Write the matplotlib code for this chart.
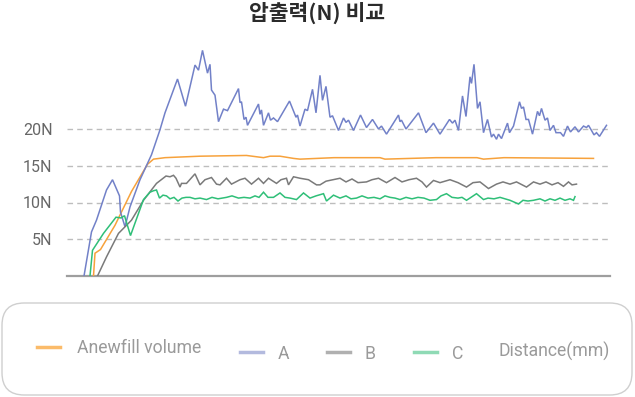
import matplotlib
matplotlib.use("Agg")
import matplotlib.pyplot as plt
from matplotlib.patches import FancyBboxPatch
from matplotlib.lines import Line2D

plt.rcParams['font.family'] = ['Noto Sans CJK KR', 'DejaVu Sans']

title = "압출력(N) 비교"
series_names = ["Anewfill volume", "A", "B", "C"]
x_label = "Distance(mm)"
y_ticks = [5, 10, 15, 20]
y_tick_labels = ["5N", "10N", "15N", "20N"]

anew_x = [5.3, 5.6, 6.7, 9.6, 12.9, 16.1, 17.3, 19.6, 26.6, 35.9, 39.3, 40.6, 42.6, 45.3, 46.6,
          53.4, 62.6, 63.6, 73.8, 82.0, 83.3, 87.4, 105.3]
anew_y = [0, 3.1, 3.6, 6.9, 11.5, 15.2, 15.9, 16.1, 16.3, 16.4, 16.1, 16.3, 16.3, 16.0, 15.9,
          16.1, 16.1, 15.9, 16.1, 16.1, 15.9, 16.1, 16.0]

a_x = [3.4, 4.9, 5.9, 7.9, 9.1, 10.5, 10.7, 11.6, 12.6, 14.6, 16.9, 18.6, 19.6, 22.1, 23.7,
       25.6, 26.3, 27.1, 28.1, 28.6, 28.9, 29.6, 30.3, 31.3, 32.1, 34.3, 34.6, 34.9, 35.4, 35.8,
       36.1, 38.3, 38.6, 38.9, 39.3, 40.3, 40.7, 41.3, 42.1, 44.5, 45.8, 46.1, 46.6, 47.6, 48.1,
       49.1, 49.8, 50.6, 51.1, 51.8, 52.6, 53.1, 54.3, 55.3, 55.8, 56.3, 57.3, 58.7, 59.9, 61.1,
       62.3, 62.9, 63.9, 66.3, 66.6, 66.9, 67.8, 70.3, 71.8, 73.3, 74.6, 76.5, 77.1, 77.6, 78.3,
       79.1, 79.8, 80.6, 80.9, 81.4, 82.1, 82.6, 83.3, 84.1, 84.9, 85.3, 85.9, 86.3, 86.9, 88.1,
       88.5, 89.3, 90.5, 90.9, 91.3, 91.8, 92.3, 93.1, 94.1, 94.5, 94.9, 95.6, 96.1, 96.6, 97.3,
       97.8, 98.7, 99.3, 100.1, 100.7, 101.6, 102.3, 103.3, 103.9, 104.3, 104.9, 105.4, 105.9,
       106.5, 107.9]
a_y = [0, 6.0, 7.6, 11.7, 13.1, 10.9, 8.7, 6.7, 9.4, 13.1, 16.5, 19.9, 22.2, 26.8, 23.1,
       28.7, 28.0, 30.7, 27.6, 28.8, 25.3, 24.6, 21.0, 22.7, 22.5, 25.5, 23.6, 23.7, 21.3, 21.6,
       20.5, 23.4, 22.0, 22.6, 20.5, 22.2, 21.2, 21.5, 21.0, 23.8, 21.6, 21.9, 20.4, 22.7, 22.5,
       25.4, 22.2, 27.3, 23.9, 25.8, 21.6, 21.8, 19.8, 21.5, 20.9, 21.2, 19.8, 21.9, 20.2, 21.3,
       20.0, 20.4, 19.3, 21.9, 21.0, 21.2, 20.0, 22.2, 19.5, 20.8, 19.3, 21.3, 20.8, 21.2, 19.8,
       24.5, 21.7, 27.1, 26.2, 28.8, 22.8, 23.7, 19.5, 21.3, 18.9, 19.3, 18.6, 19.3, 18.7, 20.8,
       19.5, 20.4, 23.7, 22.8, 23.0, 21.3, 21.3, 19.3, 22.4, 21.8, 22.8, 21.2, 21.5, 19.8, 20.5,
       19.5, 19.5, 19.0, 20.4, 19.6, 20.3, 19.6, 20.4, 20.2, 20.5, 19.8, 19.2, 19.5,
       19.0, 20.5]

b_x = [6.1, 7.9, 10.3, 11.9, 12.9, 15.3, 17.9, 19.8, 20.6, 21.3, 21.8, 22.6, 22.9, 23.9, 25.6,
       26.6, 27.6, 28.9, 29.9, 30.6, 31.9, 32.9, 34.6, 35.6, 36.9, 38.3, 39.3, 40.3, 41.9, 42.8,
       43.9, 44.3, 45.3, 46.6, 48.3, 49.9, 50.6, 51.8, 53.2, 54.6, 55.8, 57.0, 58.2, 59.9, 61.0,
       62.3, 63.9, 65.6, 67.0, 68.4, 69.9, 71.0, 71.9, 73.3, 74.6, 76.6, 78.2, 79.9, 81.2, 82.6,
       84.3, 85.9, 87.2, 88.6, 89.9, 91.9, 93.3, 94.6, 95.8, 97.0, 98.2, 99.3, 100.3, 101.0, 101.9]
b_y = [0, 2.6, 5.8, 6.9, 7.6, 10.3, 12.6, 13.6, 13.5, 13.7, 13.3, 12.1, 12.6, 12.6, 13.9,
       12.4, 13.1, 13.4, 12.5, 12.4, 13.3, 12.5, 13.1, 13.3, 12.5, 13.3, 12.6, 13.3, 12.6, 13.1,
       13.3, 12.4, 13.5, 13.3, 13.1, 12.4, 12.4, 12.9, 13.1, 13.3, 12.8, 13.2, 12.7, 12.8, 13.1,
       13.3, 12.7, 13.4, 12.8, 13.1, 13.3, 12.8, 12.1, 13.0, 12.7, 13.1, 12.7, 12.1, 12.7, 12.8,
       11.9, 12.5, 12.8, 12.5, 12.8, 12.1, 12.8, 12.5, 12.8, 12.4, 12.7, 12.2, 12.8, 12.4, 12.5]

c_x = [4.6, 5.1, 7.3, 9.8, 10.8, 11.5, 12.7, 15.3, 16.6, 17.3, 17.9, 18.5, 19.2, 19.9, 20.6,
       21.4, 22.2, 23.0, 23.8, 24.6, 25.6, 26.6, 27.9, 29.0, 30.2, 31.9, 33.0, 34.3, 35.4, 36.6,
       37.6, 38.4, 39.3, 40.2, 41.3, 42.6, 43.6, 44.6, 45.9, 47.3, 48.6, 49.8, 51.3, 51.9, 53.3,
       54.6, 55.8, 56.8, 57.9, 59.0, 60.2, 61.4, 62.6, 63.6, 64.6, 65.6, 66.6, 67.8, 69.0, 70.2,
       71.4, 72.6, 73.9, 74.8, 75.9, 77.0, 78.2, 79.0, 79.9, 80.8, 81.9, 83.3, 84.2, 85.4, 86.6,
       87.6, 88.6, 90.3, 91.2, 92.2, 93.3, 94.6, 95.6, 96.6, 97.6, 98.6, 99.6, 100.6, 101.3, 101.6]
c_y = [0, 3.5, 5.8, 8.0, 7.9, 8.2, 5.5, 10.4, 11.4, 11.6, 11.7, 10.6, 11.0, 10.9, 10.5,
       10.7, 10.2, 10.6, 10.7, 10.7, 10.5, 10.6, 10.4, 10.7, 10.5, 10.7, 10.9, 10.6, 10.7, 10.6,
       10.9, 10.7, 11.4, 10.7, 10.7, 11.3, 10.7, 10.6, 10.4, 11.3, 10.6, 10.9, 11.2, 10.2, 11.0,
       10.6, 10.9, 10.5, 10.6, 10.9, 10.6, 10.7, 10.5, 10.9, 10.7, 10.6, 10.4, 10.7, 10.5, 10.7,
       10.6, 10.3, 10.4, 10.9, 11.2, 10.7, 10.6, 10.7, 10.3, 10.7, 11.2, 10.4, 10.6, 10.5, 10.7,
       10.5, 10.3, 9.8, 10.3, 10.2, 10.3, 10.5, 10.2, 10.5, 10.3, 10.6, 10.3, 10.5, 10.3, 10.8]

colors = ["#f7a23c", "#7281c8", "#7a7a7a", "#2fbf78"]
legend_colors = ["#fbbb6a", "#b3bade", "#b0b0b0", "#8fdab5"]

W, H = 635, 397
fig = plt.figure(figsize=(W / 100, H / 100), dpi=100)
ax_left, ax_right, ax_base = 67, 610, 276
px_per_n = 7.35
ymax = 32
ax = fig.add_axes([ax_left / W, 1 - ax_base / H, (ax_right - ax_left) / W, ymax * px_per_n / H])
ax.set_xlim(0, (ax_right - ax_left) / 5)
ax.set_ylim(0, ymax)

for xs, ys, c in zip([anew_x, a_x, b_x, c_x], [anew_y, a_y, b_y, c_y], colors):
    ax.plot(xs, ys, color=c, lw=1.1, solid_joinstyle='miter', zorder=3)

for t in y_ticks:
    ax.axhline(t, color="#bdbdbd", lw=1.0, ls=(0, (4, 3)), zorder=1)
ax.axhline(0, color="#9e9e9e", lw=1.6, zorder=2, clip_on=False)

ax.set_yticks(y_ticks)
ax.set_yticklabels(y_tick_labels, color="#666666", fontsize=11.5, family=['Roboto', 'DejaVu Sans'])
ax.tick_params(axis='y', length=0, pad=10.5)
ax.set_xticks([])
for s in ax.spines.values():
    s.set_visible(False)
ax.patch.set_alpha(0)

fig.text(317 / W, 1 - 13 / H, title, ha='center', va='center', fontsize=15.5,
         fontweight='bold', color="#2b2b2b")

# legend box
box = FancyBboxPatch((2 / W, 1 - 395 / H), 630 / W, 92 / H,
                     boxstyle="round,pad=0,rounding_size=0.035",
                     transform=fig.transFigure, facecolor='white', edgecolor="#cfcfcf",
                     lw=1.0, mutation_aspect=W / H)
fig.patches.append(box)

legend_items = [
    (series_names[0], legend_colors[0], 37, 60, 347, 77, 348),
    (series_names[1], legend_colors[1], 240, 263, 352, 278, 354),
    (series_names[2], legend_colors[2], 327, 350, 352, 365, 354),
    (series_names[3], legend_colors[3], 414, 437, 352, 452, 354),
]
for name, col, x0, x1, ly, tx, ty in legend_items:
    fig.lines.append(Line2D([x0 / W, x1 / W], [1 - ly / H, 1 - ly / H], color=col, lw=2.5,
                            transform=fig.transFigure))
    fig.text(tx / W, 1 - ty / H, name, ha='left', va='center', fontsize=12.7, color="#9a9a9a",
             family=['Roboto', 'DejaVu Sans'])
fig.text(499 / W, 1 - 351 / H, x_label, ha='left', va='center', fontsize=12.7, color="#9a9a9a",
         family=['Roboto', 'DejaVu Sans'])

fig.savefig("out.png", dpi=100)
